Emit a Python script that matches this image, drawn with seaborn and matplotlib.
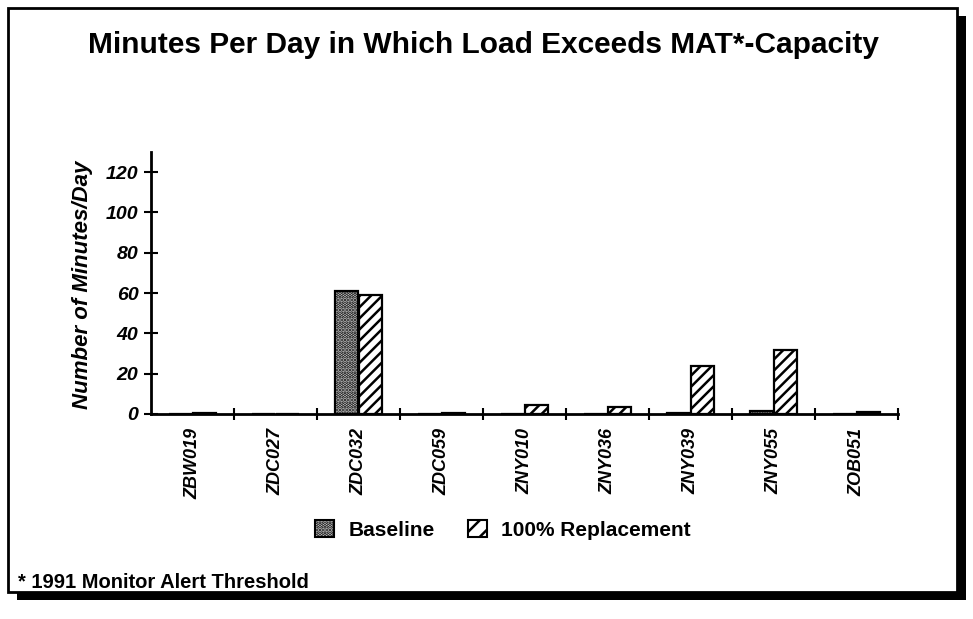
import matplotlib
matplotlib.use("Agg")
import matplotlib.pyplot as plt
from matplotlib.patches import Rectangle, Patch
import seaborn as sns
import pandas as pd
import numpy as np

categories = ["ZBW019", "ZDC027", "ZDC032", "ZDC059", "ZNY010", "ZNY036", "ZNY039", "ZNY055", "ZOB051"]
baseline = [0, 0, 61, 0, 0, 0, 0.5, 1.5, 0]
replacement = [0.5, 0, 59, 0.5, 4.5, 3.5, 24, 32, 1]
series_names = ["Baseline", "100% Replacement"]
y_ticks = [0, 20, 40, 60, 80, 100, 120]

df = pd.DataFrame({
    "Center": categories * 2,
    "Scenario": [series_names[0]] * len(categories) + [series_names[1]] * len(categories),
    "Minutes": baseline + replacement,
})

sns.set_theme(style="white")
plt.rcParams["font.family"] = ["Liberation Sans", "DejaVu Sans"]
plt.rcParams["hatch.linewidth"] = 1.8
plt.rcParams["text.color"] = "black"
plt.rcParams["axes.labelcolor"] = "black"
plt.rcParams["xtick.color"] = "black"
plt.rcParams["ytick.color"] = "black"

W, H = 973, 619
fig = plt.figure(figsize=(W / 100, H / 100), dpi=100)

def fx(px):
    return px / W
def fy(py):
    return 1 - py / H

shadow = Rectangle((fx(17), fy(600)), fx(966) - fx(17), fy(16) - fy(600),
                   transform=fig.transFigure, facecolor="black", edgecolor="none", zorder=0)
frame = Rectangle((fx(8), fy(592)), fx(957) - fx(8), fy(8) - fy(592),
                  transform=fig.transFigure, facecolor="white", edgecolor="black", lw=2, zorder=1)
fig.patches.extend([shadow, frame])

ax = fig.add_axes([fx(151), fy(414), fx(898) - fx(151), fy(152) - fy(414)])
ax.set_zorder(2)
ax.set_facecolor("none")

base_face = "#dadada"
sns.barplot(data=df, x="Center", y="Minutes", hue="Scenario", order=categories,
            hue_order=series_names, width=0.58, gap=0.07, ax=ax,
            palette=[base_face, "white"], edgecolor="black", linewidth=1.6,
            legend=False, saturation=1)

for bar in ax.containers[0]:
    bar.set_hatch(".....")
for bar in ax.containers[1]:
    bar.set_hatch("///")

ax.set_xlim(-0.5, len(categories) - 0.5)
ax.set_ylim(0, 130)
ax.set_yticks(y_ticks)
ax.set_yticklabels([str(v) for v in y_ticks], fontsize=14, fontweight="bold", fontstyle="italic")
ax.tick_params(axis="y", direction="inout", length=10, width=1.5, color="black", pad=4, left=True)

ax.set_xticks(range(len(categories)))
ax.set_xticklabels(categories, rotation=90, fontsize=13, fontweight="bold", fontstyle="italic")
ax.tick_params(axis="x", which="major", length=0, pad=10)
ax.set_xticks(np.arange(0.5, len(categories), 1.0), minor=True)
ax.tick_params(axis="x", which="minor", direction="inout", length=9, width=1.5, color="black", bottom=True)

for s in ["top", "right"]:
    ax.spines[s].set_visible(False)
for s in ["left", "bottom"]:
    ax.spines[s].set_color("black")
    ax.spines[s].set_linewidth(2)

ax.set_xlabel("")
ax.set_ylabel("Number of Minutes/Day", fontsize=16, fontweight="bold", fontstyle="italic")
ax.yaxis.set_label_coords((fx(93) - fx(151)) / (fx(898) - fx(151)), (fy(285) - fy(414)) / (fy(152) - fy(414)))

fig.text(fx(484), fy(45), "Minutes Per Day in Which Load Exceeds MAT*-Capacity",
         ha="center", va="center", fontsize=21.5, fontweight="bold", zorder=3)
fig.text(fx(18), fy(583), "* 1991 Monitor Alert Threshold",
         ha="left", va="center", fontsize=14.5, fontweight="bold", zorder=3)

handles = [
    Patch(facecolor=base_face, edgecolor="black", hatch=".....", lw=1.5),
    Patch(facecolor="white", edgecolor="black", hatch="//", lw=1.5),
]
leg = fig.legend(handles, series_names, loc="center", bbox_to_anchor=(fx(503), fy(530)),
                 ncol=2, frameon=False, handlelength=0.9, handleheight=0.9,
                 handletextpad=0.7, columnspacing=1.6,
                 prop={"weight": "bold", "size": 15})
leg.set_zorder(3)

fig.savefig("out.png", dpi=100)
